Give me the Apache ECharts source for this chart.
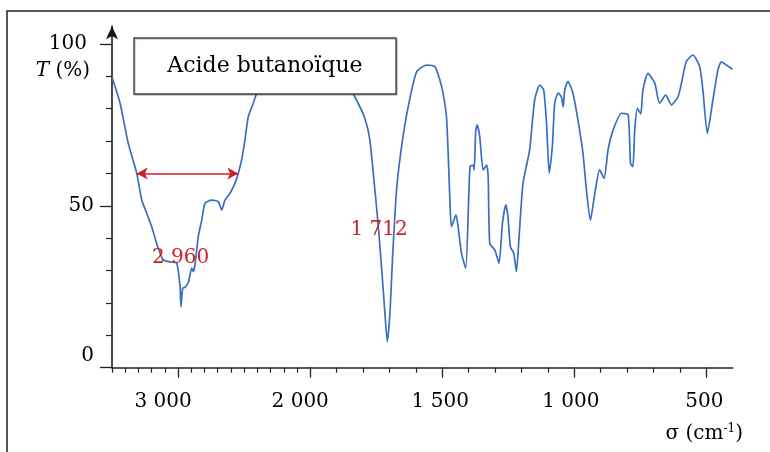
<!DOCTYPE html>
<html>
<head>
<meta charset="utf-8">
<script src="https://cdn.jsdelivr.net/npm/echarts@6/dist/echarts.min.js"></script>
<style>
    html, body { margin: 0; padding: 0; background: #fff; }
    #chart { width: 770px; height: 452px; }
</style>
</head>
<body>
<div id="chart"></div>
<script>
// IR spectrum of butanoic acid, wavenumber in cm-1 (decreasing), transmittance in %
var sigma = [
    3500, 3439, 3377, 3313, 3275, 3237, 3200, 3162, 3150, 3112, 3061, 3010, 2985, 2978,
    2965, 2948, 2921, 2897, 2885, 2872, 2847, 2821, 2796, 2746, 2696, 2670, 2645, 2607,
    2569, 2544, 2519, 2494, 2469, 2431, 2405, 2370, 2320, 2250, 2150, 2000,
    1920, 1870, 1831, 1793, 1774, 1755, 1742, 1730, 1717, 1708, 1698, 1688, 1673, 1654,
    1629, 1597, 1559, 1528, 1509, 1497, 1484, 1478, 1471, 1465, 1448, 1440, 1427, 1411,
    1395, 1383, 1379, 1373, 1368, 1358, 1345, 1332, 1326, 1320, 1301, 1285, 1272, 1259,
    1251, 1242, 1229, 1219, 1209, 1194, 1169, 1150, 1131, 1116, 1105, 1095, 1083, 1074,
    1061, 1049, 1042, 1036, 1024, 1005, 986, 967, 954, 939, 922, 904, 887, 872, 853,
    821, 796, 787, 778, 771, 761, 748, 740, 721, 695, 677, 654, 632, 607, 594, 576,
    551, 525, 513, 496, 475, 456, 443, 424, 401
];
var transmittance = [
    89.8, 81.7, 69.3, 60.1, 51.8, 47.7, 43.6, 38.4, 36.9, 33.3, 32.7, 32.3, 25.0, 18.8,
    24.6, 24.8, 26.5, 30.8, 29.7, 31.7, 40.5, 45.6, 50.8, 51.8, 51.3, 48.7, 51.8, 53.9,
    57.0, 60.1, 64.2, 70.3, 77.5, 81.7, 84.8, 88.0, 90.5, 92.0, 93.0, 93.0,
    92.0, 89.0, 83.7, 77.0, 70.3, 54.9, 43.6, 31.2, 16.8, 8.0, 16.8, 34.3, 54.9, 68.3,
    80.6, 91.4, 93.5, 93.0, 88.9, 84.8, 77.5, 67.3, 51.8, 43.6, 47.2, 43.6, 35.3, 30.7,
    62.1, 62.6, 61.1, 73.4, 75.0, 71.4, 61.1, 62.6, 59.0, 38.4, 36.4, 32.3, 44.6, 50.3,
    46.6, 37.4, 35.3, 29.7, 40.5, 57.0, 67.3, 82.7, 87.3, 85.8, 75.5, 60.1, 68.3, 81.7,
    84.8, 83.7, 80.6, 85.8, 88.4, 84.8, 76.5, 66.2, 54.9, 45.6, 53.9, 61.1, 58.5, 67.3, 73.4,
    78.6, 78.1, 63.1, 62.1, 73.4, 80.1, 78.4, 85.8, 90.9, 87.9, 81.7, 84.2, 81.2, 83.7, 87.9, 94.5,
    96.6, 93.0, 85.8, 72.4, 82.7, 92.0, 94.5, 93.5, 92.2
];

// axis ticks
var xLabels = [3000, 2000, 1500, 1000, 500];
var xMinorHigh = [3500, 3400, 3300, 3200, 3100, 2900, 2800, 2700, 2600, 2500, 2400, 2300, 2200, 2100];
var xMinorLow = [1900, 1800, 1700, 1600, 1400, 1300, 1200, 1100, 900, 800, 700, 600];
var yLabels = [0, 50, 100];
var yMinor = [10, 20, 30, 40, 60, 70, 80, 90];

// annotations : band width arrow at T = 60 %, and the two peak labels
var bandArrow = [[3313, 60], [2544, 60]];
var peakNames = ['2 960', '1 712'];
var peakAt = [[2981, 34.1], [1739, 42.5]];

var BLUE = '#3a6ec3';
var RED = '#cc2229';
var FONT = 'DejaVu Serif';
var INK = '#000';

// the scale changes at 2000 cm-1 : one grid per part
var high = [], low = [];
for (var i = 0; i < sigma.length; i++) {
    if (sigma[i] >= 2000) high.push([sigma[i], transmittance[i]]);
    if (sigma[i] <= 2000) low.push([sigma[i], transmittance[i]]);
}

function fmt(v) {
    if (v < 1000) return String(v);
    return Math.floor(v / 1000) + ' ' + ('00' + (v % 1000)).slice(-3);
}

var labelShift = {3000: 30, 2000: 20, 1500: 4, 1000: 7, 500: 4};
var xRich = {};
xLabels.forEach(function (v) {
    xRich['s' + v] = {padding: [0, labelShift[v], 0, 0], fontFamily: FONT, fontSize: 20, color: INK};
});

function xMajor(grid, min, max, values) {
    return {
        type: 'value', gridIndex: grid, min: min, max: max, inverse: true,
        position: 'bottom',
        splitLine: {show: false},
        axisLine: {show: true, onZero: false, lineStyle: {color: '#222', width: 1.5}},
        axisTick: {show: true, customValues: values, length: 10, lineStyle: {color: '#222', width: 1.3}},
        axisLabel: {
            show: true, customValues: values, margin: 24, showMinLabel: true, showMaxLabel: true,
            formatter: function (v) { return '{s' + v + '|' + fmt(v) + '}'; },
            rich: xRich
        }
    };
}
function xMinor(grid, min, max, values) {
    return {
        type: 'value', gridIndex: grid, min: min, max: max, inverse: true,
        position: 'bottom',
        splitLine: {show: false},
        axisLine: {show: false, onZero: false},
        axisTick: {show: true, customValues: values, length: 5, lineStyle: {color: '#222', width: 1.2}},
        axisLabel: {show: false}
    };
}

var chart = echarts.init(document.getElementById('chart'));
var option = {
    backgroundColor: '#fff',
    animation: false,
    grid: [
        {left: 112, top: 26.2, width: 198.2, bottom: 84.3},
        {left: 310.2, top: 26.2, right: 37.3, bottom: 84.3}
    ],
    xAxis: [
        xMajor(0, 2000, 3500, [3000, 2000]),
        xMinor(0, 2000, 3500, xMinorHigh),
        xMajor(1, 400, 2000, [1500, 1000, 500]),
        xMinor(1, 400, 2000, xMinorLow)
    ],
    yAxis: [{
        type: 'value', gridIndex: 0, min: 0, max: 105.5, position: 'left',
        splitLine: {show: false},
        axisLine: {
            show: true, onZero: false,
            symbol: ['none', 'arrow'], symbolSize: [9, 13],
            lineStyle: {color: '#111', width: 1.5}
        },
        axisTick: {show: true, customValues: yLabels, length: 12, lineStyle: {color: '#222', width: 1.3}},
        axisLabel: {
            show: true, customValues: yLabels, margin: 18,
            formatter: function (v) {
                if (v === 100) return '{top|100}';
                if (v === 0) return '{zero|0}';
                return '{n|' + v + '}';
            },
            rich: {
                top: {padding: [0, 7, 0, 0], fontFamily: FONT, fontSize: 20, color: INK},
                zero: {padding: [0, 0, 24, 0], fontFamily: FONT, fontSize: 20, color: INK},
                n: {fontFamily: FONT, fontSize: 20, color: INK}
            }
        }
    }, {
        type: 'value', gridIndex: 0, min: 0, max: 105.5, position: 'left',
        splitLine: {show: false},
        axisLine: {show: false, onZero: false},
        axisTick: {show: true, customValues: yMinor, length: 6, lineStyle: {color: '#222', width: 1.2}},
        axisLabel: {show: false}
    }, {
        type: 'value', gridIndex: 1, min: 0, max: 105.5, show: false
    }],
    series: [{
        type: 'line',
        xAxisIndex: 0, yAxisIndex: 0,
        data: high,
        showSymbol: false,
        smooth: 0.2,
        lineStyle: {color: BLUE, width: 1.7},
        markLine: {
            silent: true,
            symbol: ['arrow', 'arrow'],
            symbolSize: [9, 11],
            label: {show: false},
            lineStyle: {color: RED, width: 1.5, type: 'solid'},
            data: [[{coord: bandArrow[0]}, {coord: bandArrow[1]}]]
        },
        markPoint: {
            silent: true,
            symbolSize: 0,
            label: {show: true, position: 'inside', color: RED, fontFamily: FONT, fontSize: 20,
                formatter: function (p) { return p.name; }},
            data: [{name: peakNames[0], coord: peakAt[0]}]
        },
        z: 2
    }, {
        type: 'line',
        xAxisIndex: 2, yAxisIndex: 2,
        data: low,
        showSymbol: false,
        smooth: 0.2,
        lineStyle: {color: BLUE, width: 1.7},
        markPoint: {
            silent: true,
            symbolSize: 0,
            label: {show: true, position: 'inside', color: RED, fontFamily: FONT, fontSize: 20,
                formatter: function (p) { return p.name; }},
            data: [{name: peakNames[1], coord: peakAt[1]}]
        },
        z: 2
    }],
    graphic: [{
        // frame
        type: 'polyline', z: 10,
        shape: {points: [[7, 452], [7, 11], [770, 11]]},
        style: {stroke: '#222', lineWidth: 1.5, fill: null}
    }, {
        type: 'rect', z: 20,
        shape: {x: 134, y: 38, width: 262, height: 56},
        style: {fill: '#fff', stroke: '#444', lineWidth: 1.4,
            shadowColor: 'rgba(0,0,0,0.25)', shadowBlur: 1, shadowOffsetX: 1, shadowOffsetY: 1}
    }, {
        type: 'text', z: 21, x: 265, y: 66,
        style: {text: 'Acide butanoïque', font: '22px "DejaVu Serif"', fill: INK,
            align: 'center', verticalAlign: 'middle'}
    }, {
        type: 'text', z: 21, x: 90, y: 71,
        style: {
            text: '{i|T} (%)', align: 'right', verticalAlign: 'middle',
            font: '20px "DejaVu Serif"', fill: INK,
            rich: {i: {fontStyle: 'italic', fontFamily: FONT, fontSize: 20, fill: INK}}
        }
    }, {
        type: 'text', z: 21, x: 743, y: 434,
        style: {
            text: 'σ (cm{sup|-1})', align: 'right', verticalAlign: 'middle',
            font: '20px "DejaVu Serif"', fill: INK,
            rich: {sup: {fontFamily: FONT, fontSize: 12, fill: INK, padding: [0, 0, 10, 0]}}
        }
    }]
};
chart.setOption(option);
</script>
</body>
</html>
